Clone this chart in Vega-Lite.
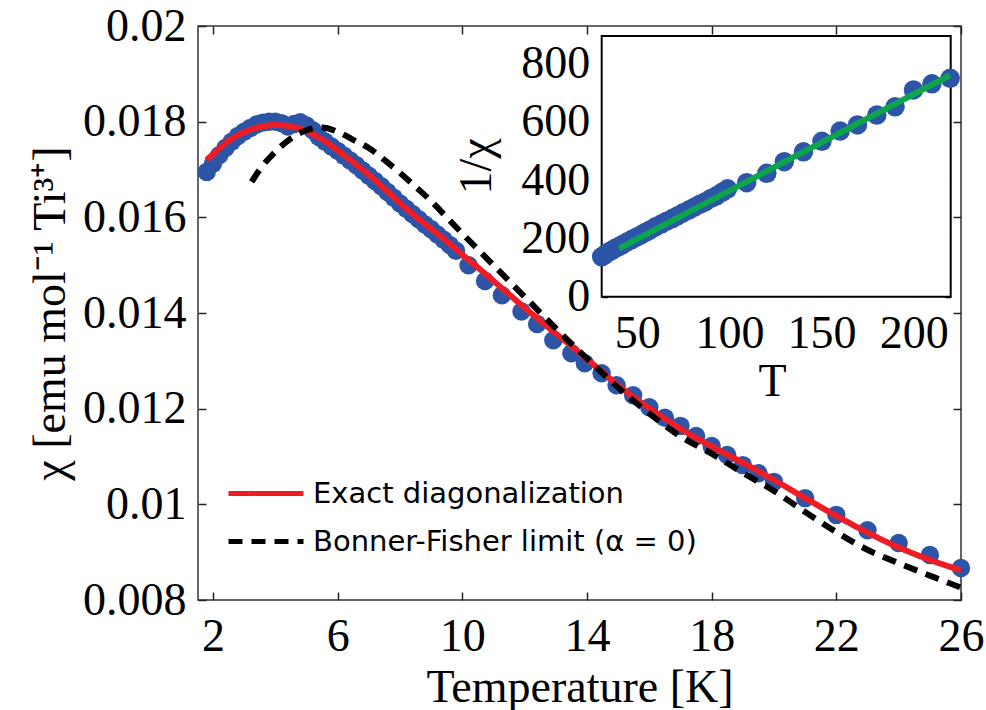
{
  "$schema": "https://vega.github.io/schema/vega-lite/v6.json",
  "autosize": {"type": "none"},
  "padding": {"left": 198, "top": 26, "right": 25, "bottom": 110},
  "width": 763,
  "height": 574,
  "background": "white",
  "view": {"stroke": "#333333", "strokeWidth": 1.5},
  "config": {
    "font": "Liberation Serif",
    "axis": {"grid": false, "domain": false, "labelColor": "black", "titleColor": "black", "labelFont": "Liberation Serif", "titleFont": "Liberation Serif", "labelFontSize": 46, "titleFontSize": 46, "titleFontWeight": "normal", "labelFlush": false, "labelOverlap": false, "tickColor": "#222", "tickWidth": 1.5},
    "legend": {"labelFont": "DejaVu Sans", "labelFontSize": 29, "labelColor": "black"}
  },
  "datasets": {
    "blue": [
      {"T": 1.8, "chi": 0.01695}, {"T": 2.0, "chi": 0.01712}, {"T": 2.2, "chi": 0.0173}, {"T": 2.4, "chi": 0.01745},
      {"T": 2.6, "chi": 0.01758}, {"T": 2.8, "chi": 0.0177}, {"T": 3.0, "chi": 0.01779}, {"T": 3.2, "chi": 0.01787},
      {"T": 3.4, "chi": 0.01794}, {"T": 3.6, "chi": 0.01798}, {"T": 3.8, "chi": 0.018}, {"T": 4.0, "chi": 0.018},
      {"T": 4.2, "chi": 0.01797}, {"T": 4.4, "chi": 0.0179}, {"T": 4.6, "chi": 0.01795}, {"T": 4.8, "chi": 0.01799},
      {"T": 5.0, "chi": 0.01792}, {"T": 5.2, "chi": 0.01782}, {"T": 5.4, "chi": 0.01768}, {"T": 5.6, "chi": 0.01758},
      {"T": 5.8, "chi": 0.01748}, {"T": 6.0, "chi": 0.01739}, {"T": 6.2, "chi": 0.01729}, {"T": 6.4, "chi": 0.01719},
      {"T": 6.6, "chi": 0.01709}, {"T": 6.8, "chi": 0.01698}, {"T": 7.0, "chi": 0.01687}, {"T": 7.2, "chi": 0.01676},
      {"T": 7.4, "chi": 0.01665}, {"T": 7.6, "chi": 0.01653}, {"T": 7.8, "chi": 0.01641}, {"T": 8.0, "chi": 0.01629},
      {"T": 8.2, "chi": 0.01618}, {"T": 8.4, "chi": 0.01607}, {"T": 8.6, "chi": 0.01596}, {"T": 8.8, "chi": 0.01585},
      {"T": 9.0, "chi": 0.01575}, {"T": 9.2, "chi": 0.01564}, {"T": 9.4, "chi": 0.01553}, {"T": 9.6, "chi": 0.01542},
      {"T": 9.8, "chi": 0.0153}, {"T": 10.2, "chi": 0.015}, {"T": 10.73, "chi": 0.01467}, {"T": 11.27, "chi": 0.01437},
      {"T": 11.9, "chi": 0.01403}, {"T": 12.4, "chi": 0.01377}, {"T": 12.92, "chi": 0.01343}, {"T": 13.5, "chi": 0.01316},
      {"T": 13.93, "chi": 0.01295}, {"T": 14.47, "chi": 0.01274}, {"T": 14.95, "chi": 0.01249}, {"T": 15.48, "chi": 0.01228},
      {"T": 16.0, "chi": 0.01203}, {"T": 16.5, "chi": 0.01181}, {"T": 17.0, "chi": 0.01164}, {"T": 17.5, "chi": 0.01143},
      {"T": 18.0, "chi": 0.01122}, {"T": 18.5, "chi": 0.01103}, {"T": 19.0, "chi": 0.01082}, {"T": 19.5, "chi": 0.01065},
      {"T": 20.0, "chi": 0.01047}, {"T": 21.0, "chi": 0.01013}, {"T": 22.0, "chi": 0.00978}, {"T": 23.0, "chi": 0.00946},
      {"T": 24.0, "chi": 0.00919}, {"T": 25.0, "chi": 0.00894}, {"T": 26.0, "chi": 0.00867}
    ],
    "exact": [
      {"T": 1.8, "chi": 0.0172, "series": "Exact diagonalization"}, {"T": 2.0, "chi": 0.01732, "series": "Exact diagonalization"},
      {"T": 2.5, "chi": 0.0176, "series": "Exact diagonalization"}, {"T": 3.0, "chi": 0.01778, "series": "Exact diagonalization"},
      {"T": 3.5, "chi": 0.01789, "series": "Exact diagonalization"}, {"T": 4.0, "chi": 0.01793, "series": "Exact diagonalization"},
      {"T": 4.5, "chi": 0.0179, "series": "Exact diagonalization"}, {"T": 5.0, "chi": 0.0178, "series": "Exact diagonalization"},
      {"T": 5.5, "chi": 0.01763, "series": "Exact diagonalization"}, {"T": 6.0, "chi": 0.0174, "series": "Exact diagonalization"},
      {"T": 6.5, "chi": 0.01715, "series": "Exact diagonalization"}, {"T": 7.0, "chi": 0.01689, "series": "Exact diagonalization"},
      {"T": 7.5, "chi": 0.0166, "series": "Exact diagonalization"}, {"T": 8.0, "chi": 0.0163, "series": "Exact diagonalization"},
      {"T": 8.5, "chi": 0.01602, "series": "Exact diagonalization"}, {"T": 9.0, "chi": 0.01576, "series": "Exact diagonalization"},
      {"T": 9.5, "chi": 0.0155, "series": "Exact diagonalization"}, {"T": 10.0, "chi": 0.01522, "series": "Exact diagonalization"},
      {"T": 10.5, "chi": 0.01495, "series": "Exact diagonalization"}, {"T": 11.0, "chi": 0.01467, "series": "Exact diagonalization"},
      {"T": 11.5, "chi": 0.01439, "series": "Exact diagonalization"}, {"T": 12.0, "chi": 0.01411, "series": "Exact diagonalization"},
      {"T": 12.5, "chi": 0.01384, "series": "Exact diagonalization"}, {"T": 13.0, "chi": 0.01357, "series": "Exact diagonalization"},
      {"T": 13.5, "chi": 0.01331, "series": "Exact diagonalization"}, {"T": 14.0, "chi": 0.01304, "series": "Exact diagonalization"},
      {"T": 14.5, "chi": 0.01276, "series": "Exact diagonalization"}, {"T": 15.0, "chi": 0.01249, "series": "Exact diagonalization"},
      {"T": 15.5, "chi": 0.01224, "series": "Exact diagonalization"}, {"T": 16.0, "chi": 0.01201, "series": "Exact diagonalization"},
      {"T": 16.5, "chi": 0.01179, "series": "Exact diagonalization"}, {"T": 17.0, "chi": 0.01158, "series": "Exact diagonalization"},
      {"T": 17.5, "chi": 0.01139, "series": "Exact diagonalization"}, {"T": 18.0, "chi": 0.01121, "series": "Exact diagonalization"},
      {"T": 18.5, "chi": 0.01104, "series": "Exact diagonalization"}, {"T": 19.0, "chi": 0.01087, "series": "Exact diagonalization"},
      {"T": 19.5, "chi": 0.01069, "series": "Exact diagonalization"}, {"T": 20.0, "chi": 0.01051, "series": "Exact diagonalization"},
      {"T": 21.0, "chi": 0.01013, "series": "Exact diagonalization"}, {"T": 22.0, "chi": 0.00976, "series": "Exact diagonalization"},
      {"T": 23.0, "chi": 0.00941, "series": "Exact diagonalization"}, {"T": 24.0, "chi": 0.0091, "series": "Exact diagonalization"},
      {"T": 25.0, "chi": 0.00884, "series": "Exact diagonalization"}, {"T": 26.0, "chi": 0.00862, "series": "Exact diagonalization"}
    ],
    "bonner": [
      {"T": 3.24, "chi": 0.01674, "series": "Bonner-Fisher limit (α = 0)"}, {"T": 3.5, "chi": 0.017, "series": "Bonner-Fisher limit (α = 0)"},
      {"T": 4.0, "chi": 0.01737, "series": "Bonner-Fisher limit (α = 0)"}, {"T": 4.5, "chi": 0.01765, "series": "Bonner-Fisher limit (α = 0)"},
      {"T": 5.0, "chi": 0.01782, "series": "Bonner-Fisher limit (α = 0)"}, {"T": 5.5, "chi": 0.01788, "series": "Bonner-Fisher limit (α = 0)"},
      {"T": 6.0, "chi": 0.01779, "series": "Bonner-Fisher limit (α = 0)"}, {"T": 6.5, "chi": 0.01762, "series": "Bonner-Fisher limit (α = 0)"},
      {"T": 7.0, "chi": 0.01745, "series": "Bonner-Fisher limit (α = 0)"}, {"T": 7.5, "chi": 0.0172, "series": "Bonner-Fisher limit (α = 0)"},
      {"T": 8.0, "chi": 0.01693, "series": "Bonner-Fisher limit (α = 0)"}, {"T": 8.5, "chi": 0.01664, "series": "Bonner-Fisher limit (α = 0)"},
      {"T": 9.0, "chi": 0.01634, "series": "Bonner-Fisher limit (α = 0)"}, {"T": 9.5, "chi": 0.016, "series": "Bonner-Fisher limit (α = 0)"},
      {"T": 10.0, "chi": 0.01566, "series": "Bonner-Fisher limit (α = 0)"}, {"T": 10.5, "chi": 0.01533, "series": "Bonner-Fisher limit (α = 0)"},
      {"T": 11.0, "chi": 0.015, "series": "Bonner-Fisher limit (α = 0)"}, {"T": 11.5, "chi": 0.01467, "series": "Bonner-Fisher limit (α = 0)"},
      {"T": 12.0, "chi": 0.01434, "series": "Bonner-Fisher limit (α = 0)"}, {"T": 12.5, "chi": 0.01401, "series": "Bonner-Fisher limit (α = 0)"},
      {"T": 13.0, "chi": 0.01368, "series": "Bonner-Fisher limit (α = 0)"}, {"T": 13.5, "chi": 0.01336, "series": "Bonner-Fisher limit (α = 0)"},
      {"T": 14.0, "chi": 0.01305, "series": "Bonner-Fisher limit (α = 0)"}, {"T": 14.5, "chi": 0.01274, "series": "Bonner-Fisher limit (α = 0)"},
      {"T": 15.0, "chi": 0.01244, "series": "Bonner-Fisher limit (α = 0)"}, {"T": 15.5, "chi": 0.01216, "series": "Bonner-Fisher limit (α = 0)"},
      {"T": 16.0, "chi": 0.0119, "series": "Bonner-Fisher limit (α = 0)"}, {"T": 17.0, "chi": 0.01142, "series": "Bonner-Fisher limit (α = 0)"},
      {"T": 18.0, "chi": 0.01106, "series": "Bonner-Fisher limit (α = 0)"}, {"T": 19.0, "chi": 0.01066, "series": "Bonner-Fisher limit (α = 0)"},
      {"T": 20.0, "chi": 0.01028, "series": "Bonner-Fisher limit (α = 0)"}, {"T": 21.0, "chi": 0.00984, "series": "Bonner-Fisher limit (α = 0)"},
      {"T": 22.0, "chi": 0.00942, "series": "Bonner-Fisher limit (α = 0)"}, {"T": 23.0, "chi": 0.00905, "series": "Bonner-Fisher limit (α = 0)"},
      {"T": 24.0, "chi": 0.00877, "series": "Bonner-Fisher limit (α = 0)"}, {"T": 25.0, "chi": 0.00851, "series": "Bonner-Fisher limit (α = 0)"},
      {"T": 26.0, "chi": 0.00826, "series": "Bonner-Fisher limit (α = 0)"}
    ],
    "inset_frame": [
      {"T0": 30.7, "T1": 220.1, "v0": 0, "v1": 894}
    ],
    "inset_pts": [
      {"T": 30.7, "inv": 137}, {"T": 32, "inv": 142}, {"T": 33.5, "inv": 150}, {"T": 35, "inv": 155},
      {"T": 36.5, "inv": 160}, {"T": 38, "inv": 166}, {"T": 40, "inv": 172}, {"T": 42, "inv": 179},
      {"T": 44.5, "inv": 188}, {"T": 47, "inv": 196}, {"T": 49.5, "inv": 204}, {"T": 52, "inv": 212},
      {"T": 54.5, "inv": 221}, {"T": 57, "inv": 229}, {"T": 60, "inv": 240}, {"T": 63, "inv": 249},
      {"T": 66, "inv": 259}, {"T": 69, "inv": 268}, {"T": 72, "inv": 278}, {"T": 75, "inv": 288},
      {"T": 78, "inv": 297}, {"T": 81, "inv": 307}, {"T": 84, "inv": 317}, {"T": 87, "inv": 326},
      {"T": 90, "inv": 337}, {"T": 93, "inv": 346}, {"T": 96, "inv": 358}, {"T": 99, "inv": 370},
      {"T": 109.4, "inv": 391}, {"T": 120.3, "inv": 423}, {"T": 129.8, "inv": 463}, {"T": 140.2, "inv": 497},
      {"T": 150.2, "inv": 533}, {"T": 160.1, "inv": 568}, {"T": 169.5, "inv": 589}, {"T": 180, "inv": 623},
      {"T": 189.9, "inv": 651}, {"T": 199.9, "inv": 709}, {"T": 209.9, "inv": 730}, {"T": 219.8, "inv": 749}
    ],
    "inset_fit": [
      {"T": 40.3, "inv": 166}, {"T": 219.8, "inv": 760}
    ]
  },
  "layer": [
    {
      "layer": [
        {
          "data": {"name": "blue"},
          "mark": {"type": "point", "filled": true, "size": 340, "color": "#2c55a8", "opacity": 1},
          "encoding": {
            "x": {"field": "T", "type": "quantitative", "scale": {"domain": [1.52, 26], "nice": false, "zero": false},
                  "axis": {"orient": "bottom", "values": [2, 6, 10, 14, 18, 22, 26], "title": "Temperature [K]", "tickSize": -8, "labelPadding": 22, "titlePadding": 6}},
            "y": {"field": "chi", "type": "quantitative", "scale": {"domain": [0.008, 0.02], "nice": false, "zero": false},
                  "axis": {"orient": "left", "values": [0.008, 0.01, 0.012, 0.014, 0.016, 0.018, 0.02], "format": "~g", "title": "χ [emu mol⁻¹ Ti³⁺]", "tickSize": -8, "labelPadding": 20, "titlePadding": 8}}
          }
        },
        {
          "data": {"name": "exact"},
          "mark": {"type": "line", "strokeWidth": 6, "interpolate": "monotone"},
          "encoding": {
            "x": {"field": "T", "type": "quantitative", "axis": {"orient": "top", "values": [2, 6, 10, 14, 18, 22, 26], "labels": false, "title": null, "tickSize": -8}},
            "y": {"field": "chi", "type": "quantitative", "axis": {"orient": "right", "values": [0.008, 0.01, 0.012, 0.014, 0.016, 0.018, 0.02], "labels": false, "title": null, "tickSize": -8}},
            "color": {"field": "series", "type": "nominal", "scale": {"domain": ["Exact diagonalization", "Bonner-Fisher limit (α = 0)"], "range": ["#ee1c25", "#000000"]},
                      "legend": {"title": null, "orient": "none", "legendX": 50.5, "legendY": 450, "symbolType": "M-2.5,0H2.5", "symbolSize": 900, "symbolStrokeWidth": 5, "labelOffset": 29.5, "rowPadding": 15, "padding": 0, "labelLimit": 600}},
            "strokeDash": {"field": "series", "type": "nominal", "scale": {"domain": ["Exact diagonalization", "Bonner-Fisher limit (α = 0)"], "range": [[1, 0], [14, 9]]}}
          }
        },
        {
          "data": {"name": "bonner"},
          "mark": {"type": "line", "strokeWidth": 6, "interpolate": "monotone"},
          "encoding": {
            "x": {"field": "T", "type": "quantitative", "axis": null},
            "y": {"field": "chi", "type": "quantitative", "axis": null},
            "color": {"field": "series", "type": "nominal"},
            "strokeDash": {"field": "series", "type": "nominal"}
          }
        }
      ],
      "resolve": {"axis": {"x": "independent", "y": "independent"}}
    },
    {
      "layer": [
        {
          "data": {"name": "inset_frame"},
          "mark": {"type": "rect", "fill": "white", "stroke": "black", "strokeWidth": 2},
          "encoding": {
            "x": {"field": "T0", "type": "quantitative", "scale": {"domain": [-188.38, 225.69], "nice": false, "zero": false}, "axis": null},
            "x2": {"field": "T1"},
            "y": {"field": "v0", "type": "quantitative", "scale": {"domain": [-1040.1, 928.3], "nice": false, "zero": false}, "axis": null},
            "y2": {"field": "v1"}
          }
        },
        {
          "data": {"name": "inset_pts"},
          "mark": {"type": "point", "filled": true, "size": 380, "color": "#2c55a8", "opacity": 1},
          "encoding": {
            "x": {"field": "T", "type": "quantitative",
                  "axis": {"orient": "bottom", "offset": -303.3, "values": [50, 100, 150, 200], "title": "T", "titleX": 574, "tickSize": -6, "labelPadding": 21, "titlePadding": 3}},
            "y": {"field": "inv", "type": "quantitative",
                  "axis": {"orient": "left", "offset": -403.7, "values": [0, 200, 400, 600, 800], "title": "1/χ", "titleX": -101.7, "titleY": 140, "tickSize": -6, "labelPadding": 18}}
          }
        },
        {
          "data": {"name": "inset_fit"},
          "mark": {"type": "line", "strokeWidth": 6, "color": "#0ca54b"},
          "encoding": {
            "x": {"field": "T", "type": "quantitative", "axis": {"orient": "top", "offset": -10, "values": [50, 100, 150, 200], "labels": false, "title": null, "tickSize": -6}},
            "y": {"field": "inv", "type": "quantitative", "axis": {"orient": "right", "offset": -10.3, "values": [0, 200, 400, 600, 800], "labels": false, "title": null, "tickSize": -6}}
          }
        }
      ],
      "resolve": {"axis": {"x": "independent", "y": "independent"}}
    }
  ],
  "resolve": {"scale": {"x": "independent", "y": "independent"}, "axis": {"x": "independent", "y": "independent"}}
}
